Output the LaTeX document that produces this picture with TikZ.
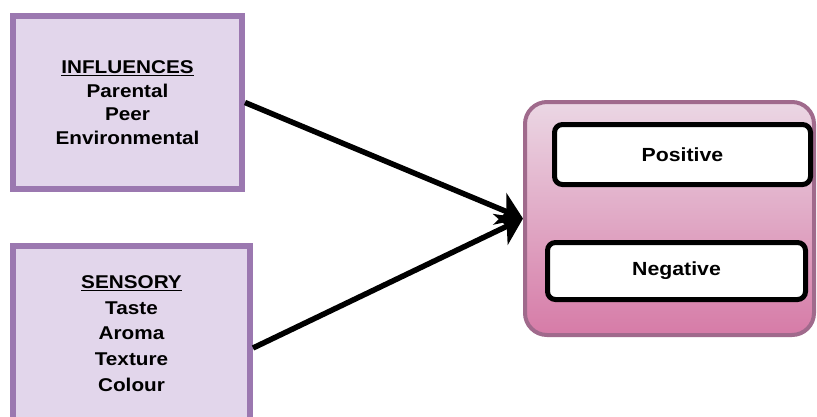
\documentclass[tikz,border=0pt]{standalone}
\usepackage{fontspec}
\setmainfont{Liberation Sans}[FakeStretch=1.12]
\usetikzlibrary{arrows.meta,calc}
\definecolor{boxfill}{HTML}{E2D6EB}
\definecolor{boxline}{HTML}{9B78B0}
\definecolor{contline}{HTML}{A06A8C}
\definecolor{conttop}{HTML}{EBD7E4}
\definecolor{contbot}{HTML}{D67BA7}
\tikzset{
  srcbox/.style={draw=boxline, fill=boxfill, line width=6pt, align=center, inner sep=0pt,
    font=\bfseries\fontsize{18.5}{23.5}\selectfont},
  container/.style={draw=contline, line width=4pt, rounded corners=22pt,
    top color=conttop, bottom color=contbot, inner sep=0pt},
  resbox/.style={draw=black, fill=white, line width=5pt, rounded corners=8pt, inner sep=0pt,
    font=\bfseries\fontsize{19}{20}\selectfont},
  flow/.style={line width=5.5pt, -{Stealth[length=25pt,width=34pt,inset=7pt]}}
}
\begin{document}
\begin{tikzpicture}[x=1pt,y=-1pt]
\clip (0,0) rectangle (817,416);
\fill[white] (0,0) rectangle (817,416);
\node[srcbox, minimum width=229pt, minimum height=173pt] (infl) at (127.5,102.5)
  {\underline{INFLUENCES}\\Parental\\Peer\\Environmental};
\node[srcbox, minimum width=237pt, minimum height=175pt, font=\bfseries\fontsize{18.5}{25.7}\selectfont] (sens) at (131.5,333.5)
  {\underline{SENSORY}\\Taste\\Aroma\\Texture\\Colour};
\node[container, minimum width=289pt, minimum height=233pt] (res) at (669.5,218.5) {};
\node[resbox, minimum width=256pt, minimum height=60pt] (pos) at (682.5,154.5) {Positive};
\node[resbox, minimum width=258pt, minimum height=57pt] (neg) at (676.5,271) {Negative};
\coordinate (s2) at ($(sens.east)+(0,14.5)$);
\draw[flow] (infl.east) -- (res.west);
\draw[flow] (s2) -- (res.west);
\end{tikzpicture}
\end{document}
